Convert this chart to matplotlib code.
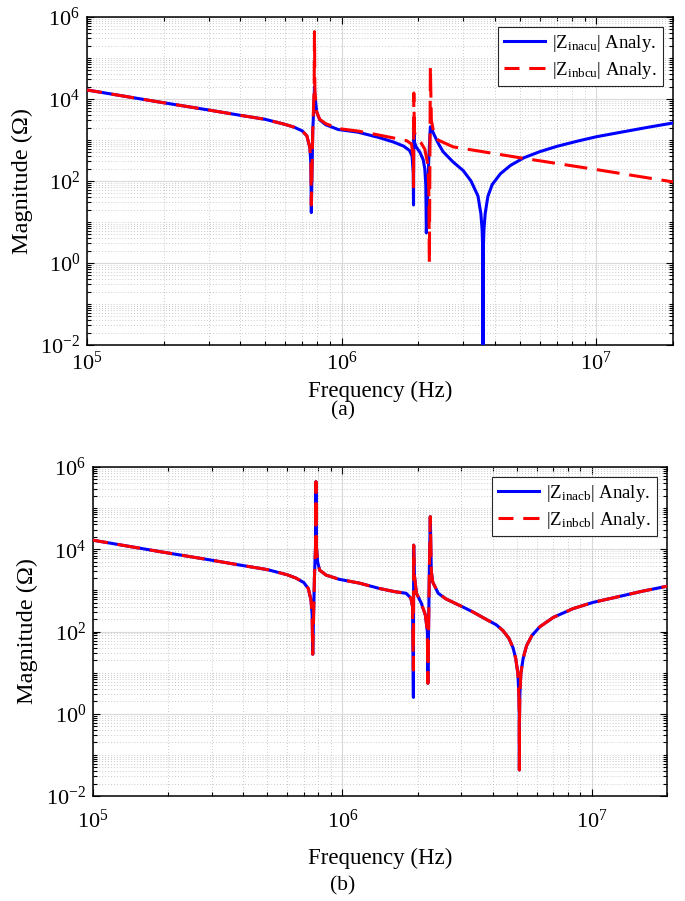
#!/usr/bin/env python3
"""Input impedance magnitude, two panels (a) and (b), MATLAB-like log-log style."""
import matplotlib
matplotlib.use("Agg")
import matplotlib.pyplot as plt
from matplotlib.ticker import LogLocator, NullFormatter
import numpy as np

BLUE = "#0000FF"
RED = "#FF0000"

plt.rcParams.update({
    "font.family": "Liberation Serif",
    "mathtext.fontset": "custom",
    "mathtext.rm": "Liberation Serif",
    "mathtext.it": "Liberation Serif:italic",
    "mathtext.default": "regular",
    "axes.unicode_minus": False,
    "font.size": 14,
})

# ---- panel (a): values (Hz, Ohm) ----
freq_a_blue = [1.0e5, 1.5e5, 2.0e5, 3.0e5, 4.0e5, 5.0e5, 6.0e5, 6.5e5, 7.0e5, 7.3e5,
               7.5e5, 7.57e5, 7.6e5, 7.7e5, 7.8e5, 7.82e5, 7.85e5, 7.98e5, 8.2e5, 8.66e5,
               9.7e5, 1.16e6, 1.4e6, 1.6e6, 1.75e6, 1.85e6, 1.89e6, 1.91e6, 1.915e6, 1.92e6,
               1.93e6, 1.96e6, 2.03e6, 2.09e6, 2.12e6, 2.14e6, 2.15e6, 2.2e6, 2.23e6, 2.26e6,
               2.3e6, 2.39e6, 2.5e6, 2.74e6, 3.0e6, 3.22e6, 3.43e6, 3.52e6, 3.56e6, 3.58e6,
               3.588e6, 3.5898e6, 3.59e6, 3.5902e6, 3.592e6, 3.6e6, 3.62e6, 3.66e6, 3.75e6, 3.9e6,
               4.2e6, 4.6e6, 5.2e6, 6.0e6, 7.0e6, 8.5e6, 1.0e7, 1.25e7, 1.6e7, 2.0e7]
zinacu = [1.66e4, 1.09e4, 8.1e3, 5.4e3, 4.0e3, 3.2e3, 2.4e3, 2.06e3, 1.67e3, 1.26e3,
          6.6e2, 2.6e2, 17, 1.7e3, 1.0e4, 2.0e4, 1.2e4, 4.8e3, 3.1e3, 2.35e3,
          1.8e3, 1.55e3, 1.15e3, 8.9e2, 7.1e2, 5.5e2, 4.0e2, 1.6e2, 26, 2.0e3,
          9.0e2, 6.8e2, 5.0e2, 3.3e2, 2.0e2, 80, 5.4, 4.0e2, 2.1e3, 1.8e3,
          1.4e3, 8.5e2, 5.2e2, 2.9e2, 1.8e2, 1.0e2, 43, 16, 6.5, 2.2,
          0.45, 0.05, 1e-3, 0.05, 0.45, 2.2, 6.5, 16, 42, 82,
          1.5e2, 2.4e2, 3.7e2, 5.2e2, 7.0e2, 9.5e2, 1.2e3, 1.55e3, 2.05e3, 2.6e3]

freq_a_red = [1.0e5, 1.5e5, 2.0e5, 3.0e5, 4.0e5, 5.0e5, 6.0e5, 6.5e5, 7.0e5, 7.3e5,
              7.5e5, 7.57e5, 7.6e5, 7.7e5, 7.8e5, 7.82e5, 7.85e5, 7.98e5, 8.2e5, 8.66e5,
              9.7e5, 1.16e6, 1.4e6, 1.6e6, 1.8e6, 1.88e6, 1.91e6, 1.915e6, 1.92e6, 1.93e6,
              1.96e6, 2.05e6, 2.12e6, 2.18e6, 2.2e6, 2.21e6, 2.23e6, 2.25e6, 2.3e6, 2.39e6,
              2.74e6, 5.0e6, 1.0e7, 2.0e7]
zinbcu = [1.66e4, 1.09e4, 8.1e3, 5.4e3, 4.0e3, 3.2e3, 2.4e3, 2.06e3, 1.67e3, 1.26e3,
          6.6e2, 2.6e2, 26, 1.7e3, 2.0e4, 4.4e5, 1.5e4, 4.8e3, 3.2e3, 2.5e3,
          1.9e3, 1.65e3, 1.32e3, 1.12e3, 9.6e2, 8.0e2, 4.0e2, 72, 1.4e4, 1.6e3,
          1.1e3, 8.5e2, 6.0e2, 2.5e2, 50, 1.0, 6.2e4, 3.0e3, 1.5e3, 1.0e3,
          6.8e2, 3.7e2, 1.9e2, 95]

# ---- panel (b): both curves share the frequency points ----
freq_b = [1.0e5, 1.5e5, 2.0e5, 3.0e5, 4.0e5, 5.0e5, 6.0e5, 6.5e5, 7.0e5, 7.3e5,
          7.48e5, 7.56e5, 7.6e5, 7.72e5, 7.8e5, 7.83e5, 7.86e5, 7.95e5, 8.1e5, 8.6e5,
          9.7e5, 1.17e6, 1.4e6, 1.62e6, 1.8e6, 1.88e6, 1.91e6, 1.925e6, 1.93e6, 1.94e6,
          1.98e6, 2.07e6, 2.15e6, 2.19e6, 2.2e6, 2.23e6, 2.25e6, 2.27e6, 2.3e6, 2.42e6,
          2.6e6, 2.8e6, 3.05e6, 3.33e6, 3.7e6, 4.14e6, 4.4e6, 4.65e6, 4.83e6, 4.95e6,
          5.05e6, 5.1e6, 5.115e6, 5.1195e6, 5.12e6, 5.1205e6, 5.125e6, 5.14e6, 5.19e6, 5.3e6,
          5.47e6, 5.75e6, 6.18e6, 7.0e6, 8.4e6, 1.01e7, 1.3e7, 1.6e7, 2.0e7]
zinacb = [1.66e4, 1.09e4, 8.1e3, 5.4e3, 4.0e3, 3.2e3, 2.4e3, 2.0e3, 1.55e3, 1.1e3,
          5.8e2, 2.5e2, 28, 2.0e3, 1.2e4, 4.4e5, 1.2e4, 5.0e3, 3.1e3, 2.35e3,
          1.86e3, 1.5e3, 1.12e3, 9.3e2, 8.5e2, 6.5e2, 4.0e2, 2.5, 1.26e4, 2.5e3,
          8.5e2, 4.9e2, 2.5e2, 1.0e2, 5.5, 3.0e3, 6.2e4, 3.0e3, 1.6e3, 8.5e2,
          6.2e2, 5.0e2, 3.9e2, 3.0e2, 2.1e2, 1.45e2, 1.05e2, 68, 40, 22,
          9.5, 2.7, 0.7, 0.1, 0.043, 0.1, 0.7, 2.7, 9.5, 22,
          45, 80, 1.3e2, 2.2e2, 3.6e2, 5.1e2, 7.2e2, 9.6e2, 1.26e3]
zinbcb = [1.66e4, 1.09e4, 8.1e3, 5.4e3, 4.0e3, 3.2e3, 2.4e3, 2.0e3, 1.55e3, 1.1e3,
          5.8e2, 2.5e2, 28, 2.0e3, 1.2e4, 4.4e5, 1.2e4, 5.0e3, 3.1e3, 2.35e3,
          1.86e3, 1.5e3, 1.12e3, 9.3e2, 8.5e2, 6.5e2, 4.0e2, 11.5, 1.26e4, 2.5e3,
          8.5e2, 4.9e2, 2.5e2, 1.0e2, 5.5, 3.0e3, 6.2e4, 3.0e3, 1.6e3, 8.5e2,
          6.2e2, 5.0e2, 3.9e2, 3.0e2, 2.1e2, 1.45e2, 1.05e2, 68, 40, 22,
          9.5, 2.7, 0.7, 0.1, 0.043, 0.1, 0.7, 2.7, 9.5, 22,
          45, 80, 1.3e2, 2.2e2, 3.6e2, 5.1e2, 7.2e2, 9.6e2, 1.26e3]

labels_a = [r"|Z$_{\rm inacu}$| Analy.", r"|Z$_{\rm inbcu}$| Analy."]
labels_b = [r"|Z$_{\rm inacb}$| Analy.", r"|Z$_{\rm inbcb}$| Analy."]

LW = 2.2
DASH = (2.6, (7.5, 3.2))   # offset so the legend sample starts mid-dash


def style(ax, xpad, xlab_y, ylab_x):
    ax.set_xscale("log")
    ax.set_yscale("log")
    ax.set_xlim(1e5, 2e7)
    ax.set_ylim(1e-2, 1e6)
    ax.xaxis.set_major_locator(LogLocator(base=10, numticks=20))
    ax.xaxis.set_minor_locator(LogLocator(base=10, subs=np.arange(2, 10), numticks=50))
    ax.xaxis.set_minor_formatter(NullFormatter())
    ax.yaxis.set_major_locator(LogLocator(base=100, numticks=20))
    ax.yaxis.set_minor_locator(LogLocator(base=10, subs=np.arange(1, 10), numticks=100))
    ax.yaxis.set_minor_formatter(NullFormatter())
    ax.grid(which="major", color="#d9d9d9", lw=0.8, ls="-")
    ax.grid(which="minor", color="#b8b8b8", lw=0.6, ls=(0, (1, 2.5)))
    ax.set_axisbelow(True)
    ax.tick_params(which="both", direction="in", top=True, right=True, width=0.8,
                   labelsize=16)
    ax.tick_params(axis="x", which="major", pad=xpad)
    ax.tick_params(axis="y", which="major", pad=5)
    ax.tick_params(which="major", length=5)
    ax.tick_params(which="minor", length=3)
    for s in ax.spines.values():
        s.set_linewidth(1.1)
    ax.set_xlabel("Frequency (Hz)", fontsize=16.5, va="center")
    ax.set_ylabel("Magnitude (\u03a9)", fontsize=17.5, va="center")
    ax.xaxis.set_label_coords(0.5, xlab_y)
    ax.yaxis.set_label_coords(ylab_x, 0.5)


def panel(ax, fb, zb, fr, zr, labels):
    ax.plot(fb, zb, color=BLUE, lw=LW, label=labels[0], zorder=3)
    ax.plot(fr, zr, color=RED, lw=LW, ls=DASH, label=labels[1], zorder=4)
    leg = ax.legend(loc="upper right", fontsize=13.5, fancybox=False, framealpha=1,
                    edgecolor="#262626", handlelength=2.2, borderaxespad=0.55,
                    borderpad=0.3, labelspacing=0.3, handletextpad=0.4)
    leg.get_frame().set_linewidth(0.8)


fig = plt.figure(figsize=(6.85, 9.01), dpi=100)
ax1 = fig.add_axes([87 / 685, 1 - 345 / 901, 586 / 685, 328 / 901])
ax2 = fig.add_axes([93 / 685, 1 - 796 / 901, 574 / 685, 329 / 901])

panel(ax1, freq_a_blue, zinacu, freq_a_red, zinbcu, labels_a)
panel(ax2, freq_b, zinacb, freq_b, zinbcb, labels_b)
style(ax1, 5, -46 / 328, -65 / 586)
style(ax2, 10, -62 / 329, -66 / 574)

fig.text(0.5, 1 - 411 / 901, "(a)", ha="center", va="center", fontsize=15.5)
fig.text(0.5, 1 - 886 / 901, "(b)", ha="center", va="center", fontsize=15.5)

fig.savefig("out.png", dpi=100, facecolor="white")
